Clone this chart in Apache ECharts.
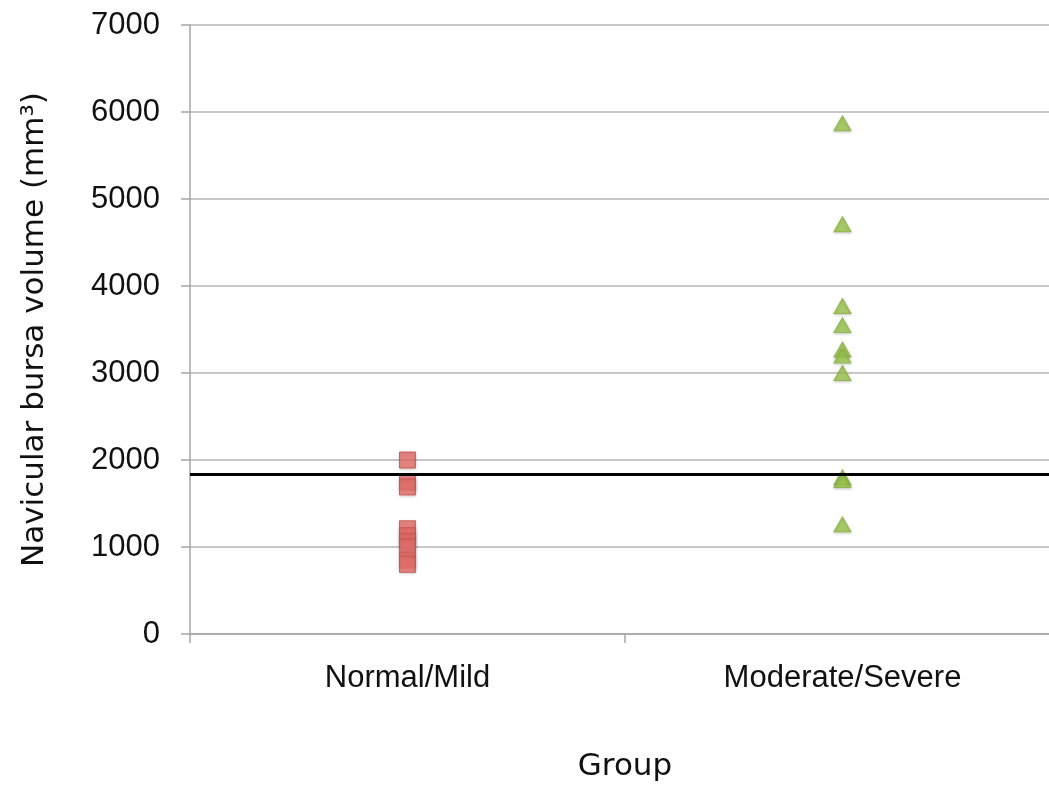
<!DOCTYPE html>
<html>
<head>
<meta charset="utf-8">
<script src="https://cdn.jsdelivr.net/npm/echarts@6/dist/echarts.min.js"></script>
<style>
  html, body { margin: 0; padding: 0; background: #ffffff; overflow: hidden; }
  /* the plot area runs on past the right edge of the window */
  #chart { width: 1060px; height: 787px; }
</style>
</head>
<body>
<div id="chart"></div>
<script>
// Groups on the horizontal axis
const groups = ['Normal/Mild', 'Moderate/Severe'];

// Navicular bursa volume (mm³) per horse, by group
const normalMildVolumes = [2000, 1750, 1690, 1210, 1130, 1060, 1000, 850, 800];
const moderateSevereVolumes = [5870, 4710, 3770, 3550, 3270, 3200, 3000, 1800, 1770, 1260];

// Cut-off volume separating the groups
const cutoffVolume = [1832];

// Y-axis range and step
const yTicks = [0, 1000, 2000, 3000, 4000, 5000, 6000, 7000];

const toPoints = (group, values) => values.map(v => [group, v]);

const chart = echarts.init(document.getElementById('chart'));

const labelFont = '"Liberation Sans", Arial, Helvetica, sans-serif';
const titleFont = '"DejaVu Sans", Verdana, sans-serif';

chart.setOption({
  animation: false,
  backgroundColor: '#ffffff',
  grid: { left: 190, right: 0, top: 25, bottom: 146, containLabel: false },
  xAxis: {
    type: 'category',
    data: groups,
    boundaryGap: true,
    name: 'Group',
    nameLocation: 'middle',
    nameGap: 117,
    nameTextStyle: { fontFamily: titleFont, fontSize: 31, color: '#111' },
    axisLine: { show: true, lineStyle: { color: '#a6a6a6', width: 1.5 } },
    axisTick: { show: true, length: 9, lineStyle: { color: '#a6a6a6', width: 1.5 } },
    axisLabel: { margin: 29, fontFamily: labelFont, fontSize: 31, color: '#111' },
    splitLine: { show: false }
  },
  yAxis: {
    type: 'value',
    min: yTicks[0],
    max: yTicks[yTicks.length - 1],
    interval: yTicks[1] - yTicks[0],
    name: 'Navicular bursa volume (mm³)',
    nameLocation: 'middle',
    nameGap: 140,
    nameRotate: 90,
    nameTextStyle: { fontFamily: titleFont, fontSize: 31, color: '#111' },
    axisLine: { show: true, lineStyle: { color: '#a6a6a6', width: 1.5 } },
    axisTick: { show: true, inside: false, length: 9, lineStyle: { color: '#a6a6a6', width: 1.5 } },
    axisLabel: {
      margin: 30,
      fontFamily: labelFont,
      fontSize: 31,
      color: '#111',
      formatter: v => String(v)
    },
    splitLine: { show: true, lineStyle: { color: '#b4b4b4', width: 1.5 } }
  },
  series: [
    {
      name: 'Normal/Mild',
      type: 'scatter',
      symbol: 'rect',
      symbolSize: 16,
      data: toPoints(groups[0], normalMildVolumes),
      itemStyle: {
        color: '#e86f6a',
        borderColor: '#c9504c',
        borderWidth: 1,
        shadowColor: 'rgba(0,0,0,0.25)',
        shadowBlur: 3,
        shadowOffsetY: 1
      },
      markLine: {
        silent: true,
        symbol: ['none', 'none'],
        label: { show: false },
        lineStyle: { color: '#000000', width: 3, type: 'solid' },
        data: [{ yAxis: cutoffVolume[0] }]
      },
      z: 3
    },
    {
      name: 'Moderate/Severe',
      type: 'scatter',
      symbol: 'triangle',
      symbolSize: [17, 15],
      data: toPoints(groups[1], moderateSevereVolumes),
      itemStyle: {
        color: '#9cc84c',
        borderColor: '#86b13a',
        borderWidth: 1,
        shadowColor: 'rgba(0,0,0,0.25)',
        shadowBlur: 3,
        shadowOffsetY: 1
      },
      z: 3
    }
  ]
});
</script>
</body>
</html>
